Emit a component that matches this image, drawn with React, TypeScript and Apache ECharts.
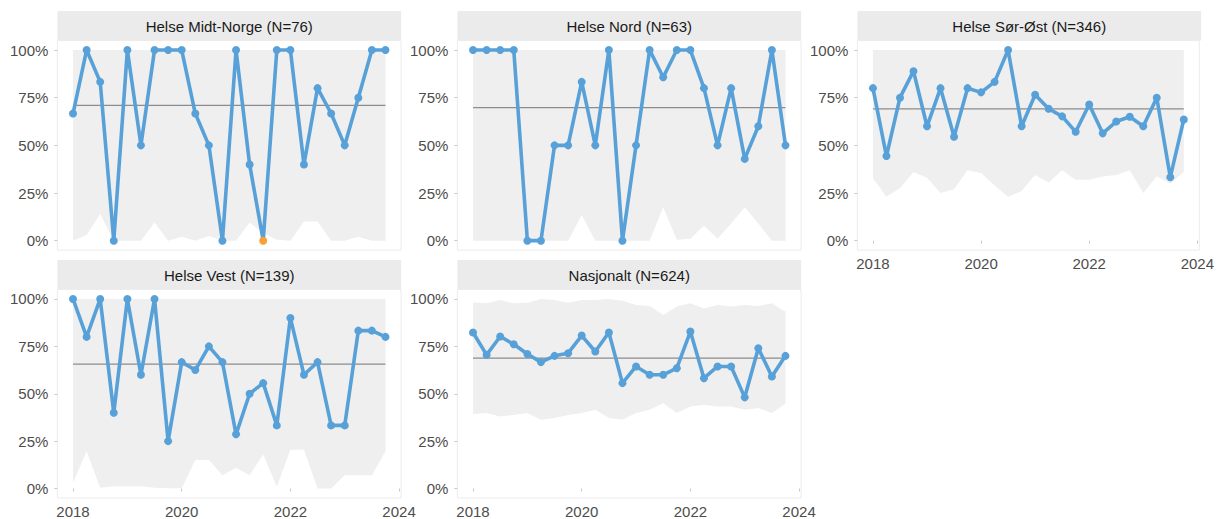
import React, { useEffect, useRef } from "react";
import * as echarts from "echarts";

const quarters = [
  2018, 2018.25, 2018.5, 2018.75, 2019, 2019.25, 2019.5, 2019.75,
  2020, 2020.25, 2020.5, 2020.75, 2021, 2021.25, 2021.5, 2021.75,
  2022, 2022.25, 2022.5, 2022.75, 2023, 2023.25, 2023.5, 2023.75,
];

const titles = [
  "Helse Midt-Norge (N=76)",
  "Helse Nord (N=63)",
  "Helse Sør-Øst (N=346)",
  "Helse Vest (N=139)",
  "Nasjonalt (N=624)",
];

const midtNorge = [66.7, 100, 83.3, 0, 100, 50, 100, 100, 100, 66.7, 50, 0, 100, 40, 0, 100, 100, 40, 80, 66.7, 50, 75, 100, 100];
const nord = [100, 100, 100, 100, 0, 0, 50, 50, 83.3, 50, 100, 0, 50, 100, 85.7, 100, 100, 80, 50, 80, 42.9, 60, 100, 50];
const sorOst = [80, 44.4, 75, 88.9, 60, 80, 54.5, 80, 77.8, 83.3, 100, 60, 76.5, 69.2, 65.2, 57.1, 71.4, 56.3, 62.5, 65, 60, 75, 33.3, 63.6];
const vest = [100, 80, 100, 40, 100, 60, 100, 25, 66.7, 62.5, 75, 66.7, 28.6, 50, 55.6, 33.3, 90, 60, 66.7, 33.3, 33.3, 83.3, 83.3, 80];
const nasjonalt = [82.3, 70.5, 80.2, 76.1, 71, 66.7, 70, 71.4, 80.7, 72.3, 82.3, 55.6, 64.4, 60, 60, 63.5, 82.8, 58.2, 64.4, 64.4, 48.1, 74, 59.1, 70];

const means = [71, 69.8, 69.1, 65.6, 68.8];

const lowerMidtNorge = [0, 3, 14, 0, 0, 0, 9.5, 0, 2, 0, 2.5, 0, 0, 9.5, 4, 0.5, 0, 10, 10, 0, 0, 2, 0, 0];
const lowerNord = [0, 0, 0, 0, 0, 0, 0, 0, 13.5, 0, 0, 0, 0, 0, 17.5, 0.5, 1, 8, 1, 9, 17.5, 9, 0, 0];
const lowerSorOst = [32.8, 23, 27.5, 36, 33, 25, 27, 37, 35.5, 29, 23, 26, 34.5, 30.5, 37, 32, 32, 33.7, 34.5, 37, 25, 33.7, 30, 36];
const lowerVest = [3, 19.6, 0.4, 1.2, 1.2, 1.2, 0.4, 0.2, 0.2, 15, 15, 7, 11, 7, 18, 1, 20.5, 20.5, 0, 0, 7, 7, 7, 19.6];
const lowerNasjonalt = [39.3, 39.8, 38, 38.8, 39.8, 36.3, 37.2, 38.8, 39.8, 41.6, 37.2, 36.3, 39.8, 41.6, 45, 39.8, 43.3, 44.2, 43.3, 43.3, 41.6, 42.5, 39.8, 44.7];

const upperFlat = [100, 100, 100, 100, 100, 100, 100, 100, 100, 100, 100, 100, 100, 100, 100, 100, 100, 100, 100, 100, 100, 100, 100, 100];
const upperNasjonalt = [98.2, 97.7, 99.5, 97.7, 98, 100, 99.5, 98, 99.5, 99.5, 100, 99, 96.8, 96.3, 91.6, 96, 97.7, 95, 96.8, 96, 96.8, 96.3, 97.7, 93.3];

const xTicks = [2018, 2020, 2022, 2024];
const yTicks = [0, 25, 50, 75, 100];

// index of the highlighted (orange) point, per panel (-1 = none)
const highlighted = [14, -1, -1, -1, -1];

const values = [midtNorge, nord, sorOst, vest, nasjonalt];
const lowers = [lowerMidtNorge, lowerNord, lowerSorOst, lowerVest, lowerNasjonalt];
const uppers = [upperFlat, upperFlat, upperFlat, upperFlat, upperNasjonalt];

const FONT = "'Liberation Sans', Arial, sans-serif";
const LINE = "#58a1d8";
const BAND = "#efefef";

export default function App() {
  const ref = useRef<HTMLDivElement>(null);

  useEffect(() => {
    if (!ref.current) return;
    const chart = echarts.init(ref.current, null, { renderer: "svg" });

    const colLeft = [57.4, 457.4, 857.4];
    const panelW = 343.7;
    const rows = [
      { top: 40.5, height: 209.7 },
      { top: 289.5, height: 209 },
    ];
    const layout = [
      { c: 0, r: 0, xl: false },
      { c: 1, r: 0, xl: false },
      { c: 2, r: 0, xl: true },
      { c: 0, r: 1, xl: true },
      { c: 1, r: 1, xl: true },
    ];

    const grid: any[] = [];
    const xAxis: any[] = [];
    const yAxis: any[] = [];
    const series: any[] = [];
    const graphic: any[] = [];

    layout.forEach((p, i) => {
      const left = colLeft[p.c];
      const row = rows[p.r];
      grid.push({
        left,
        top: row.top,
        width: panelW,
        height: row.height,
        show: true,
        backgroundColor: "#ffffff",
        borderColor: "#ececec",
        borderWidth: 1,
        containLabel: false,
      });
      xAxis.push({
        type: "value",
        gridIndex: i,
        min: 2017.7125,
        max: 2024.0375,
        axisLine: { show: false },
        splitLine: { show: false },
        axisTick: {
          show: p.xl,
          customValues: xTicks,
          length: 3,
          lineStyle: { color: "#c8c8c8" },
        },
        axisLabel: {
          show: p.xl,
          customValues: xTicks,
          margin: 6,
          color: "#4d4d4d",
          fontSize: 15,
          fontFamily: FONT,
          formatter: (v: number) => String(v),
        },
      });
      yAxis.push({
        type: "value",
        gridIndex: i,
        min: -5,
        max: 105,
        axisLine: { show: false },
        splitLine: { show: false },
        axisTick: {
          show: true,
          customValues: yTicks,
          length: 3,
          lineStyle: { color: "#c8c8c8" },
        },
        axisLabel: {
          customValues: yTicks,
          margin: 9,
          color: "#4d4d4d",
          fontSize: 15,
          fontFamily: FONT,
          formatter: (v: number) => `${v}%`,
        },
      });

      const lo = lowers[i];
      const up = uppers[i];
      series.push({
        type: "custom",
        coordinateSystem: "cartesian2d",
        xAxisIndex: i,
        yAxisIndex: i,
        data: [[quarters[0], up[0]]],
        silent: true,
        z: 1,
        renderItem: (_params: any, api: any) => {
          const pts: number[][] = [];
          for (let k = 0; k < quarters.length; k++) pts.push(api.coord([quarters[k], up[k]]));
          for (let k = quarters.length - 1; k >= 0; k--) pts.push(api.coord([quarters[k], lo[k]]));
          return {
            type: "polygon",
            shape: { points: pts },
            style: { fill: BAND, stroke: "none" },
          };
        },
      });
      series.push({
        type: "line",
        xAxisIndex: i,
        yAxisIndex: i,
        data: [
          [quarters[0], means[i]],
          [quarters[quarters.length - 1], means[i]],
        ],
        symbol: "none",
        lineStyle: { color: "#8c8c8c", width: 1.3 },
        silent: true,
        z: 2,
      });
      const vals = values[i];
      series.push({
        type: "line",
        xAxisIndex: i,
        yAxisIndex: i,
        data: quarters.map((q, k) =>
          k === highlighted[i]
            ? { value: [q, vals[k]], itemStyle: { color: "#f5a234", borderColor: "#f5a234" } }
            : [q, vals[k]]
        ),
        symbol: "circle",
        symbolSize: 8,
        showSymbol: true,
        lineStyle: { color: LINE, width: 3.6 },
        itemStyle: { color: LINE, borderWidth: 0 },
        z: 3,
      });

      graphic.push({
        type: "rect",
        shape: { x: left, y: row.top - 29.5, width: panelW, height: 29.5 },
        style: { fill: "#ebebeb" },
        z: 10,
      });
      graphic.push({
        type: "text",
        x: left + panelW / 2,
        y: row.top - 14.5,
        style: {
          text: titles[i],
          fill: "#1a1a1a",
          fontSize: 15,
          fontFamily: FONT,
          align: "center",
          verticalAlign: "middle",
        },
        z: 11,
      });
    });

    chart.setOption({
      animation: false,
      backgroundColor: "#ffffff",
      grid,
      xAxis,
      yAxis,
      series,
      graphic,
    });

    return () => chart.dispose();
  }, []);

  return (
    <div
      ref={ref}
      style={{ position: "fixed", left: 0, top: 0, width: 1217, height: 519, background: "#fff" }}
    />
  );
}
